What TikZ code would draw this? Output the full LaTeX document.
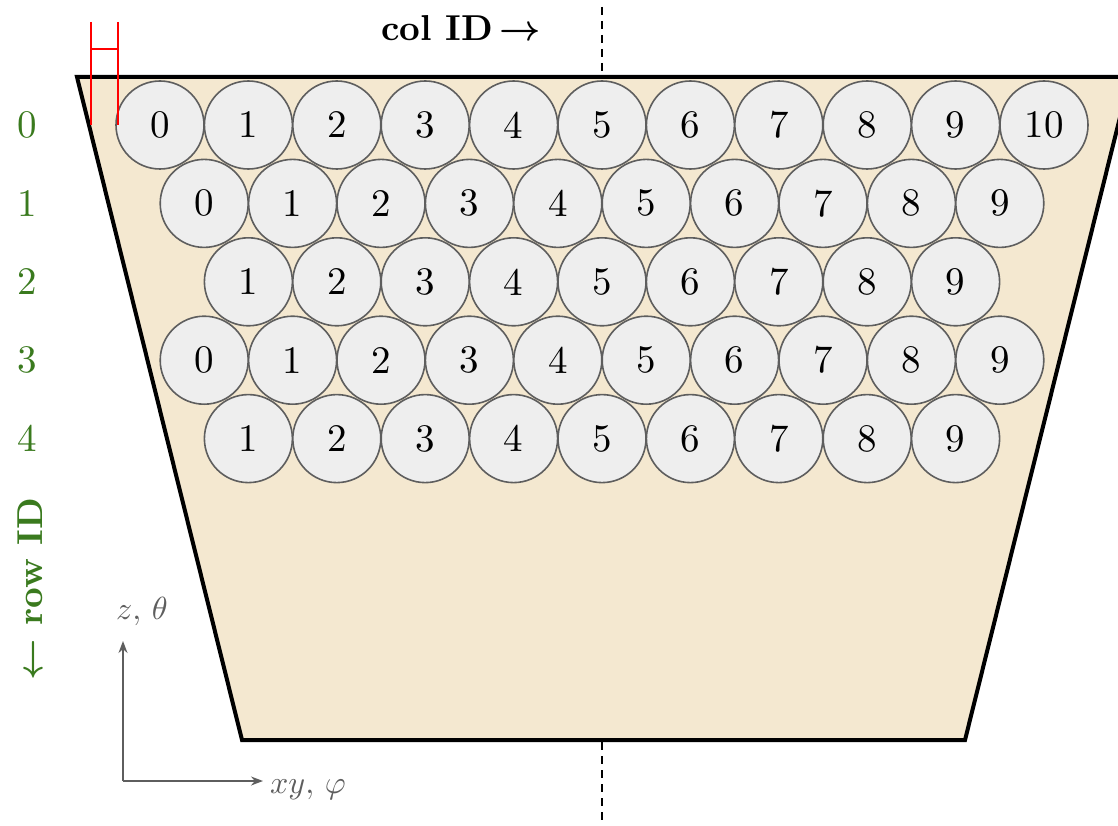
\documentclass[tikz,border=0pt]{standalone}
\usetikzlibrary{arrows.meta}
\definecolor{beige}{HTML}{F4E8D0}
\definecolor{cellfill}{HTML}{EEEEEE}
\definecolor{cellline}{HTML}{5E5E5E}
\definecolor{rowgreen}{HTML}{3A7A1E}
\definecolor{axisgray}{HTML}{5E5E5E}
\newcommand{\bigtxt}[1]{\scalebox{3.9}{#1}}
\newcommand{\midtxt}[1]{\scalebox{3.6}{#1}}
\newcommand{\axtxt}[1]{\scalebox{3.2}{#1}}
\tikzset{
  cell/.style={circle, draw=cellline, fill=cellfill, line width=1.6pt, minimum size=88pt, inner sep=0pt},
  rowlab/.style={text=rowgreen},
  axis/.style={draw=axisgray, line width=1.6pt, -{Stealth[length=12pt,width=9pt]}},
  axlab/.style={text=axisgray},
  marker/.style={draw=red, line width=1.8pt},
  centre/.style={draw=black, line width=1.6pt, dash pattern=on 8pt off 6pt}
}
\begin{document}
\begin{tikzpicture}[x=1pt,y=-1pt]
\useasboundingbox (0,0) rectangle (1118,826);
% trapezoid
\fill[beige] (77,77) -- (1130,77) -- (965,740) -- (242,740) -- cycle;
\draw[line width=4pt, line join=miter] (77,77) -- (1130,77) -- (965,740) -- (242,740) -- cycle;
% centre dashed line
\coordinate (dt0) at (602,7);
\coordinate (dt1) at (602,75);
\coordinate (db0) at (602,742);
\coordinate (db1) at (602,830);
\draw[centre] (dt0) -- (dt1);
\draw[centre] (db0) -- (db1);
% circles
\foreach \c in {0,...,10} { \node[cell] (c-0-\c) at ({160+88.4*\c},125) {\bigtxt{\c}}; }
\foreach \c in {0,...,9} { \node[cell] (c-1-\c) at ({204.2+88.4*\c},203.4) {\bigtxt{\c}}; }
\foreach \c in {1,...,9} { \node[cell] (c-2-\c) at ({160+88.4*\c},281.8) {\bigtxt{\c}}; }
\foreach \c in {0,...,9} { \node[cell] (c-3-\c) at ({204.2+88.4*\c},360.2) {\bigtxt{\c}}; }
\foreach \c in {1,...,9} { \node[cell] (c-4-\c) at ({160+88.4*\c},438.6) {\bigtxt{\c}}; }
% row labels
\foreach \r in {0,...,4} { \node[rowlab] (r-\r) at (27,{125+78.4*\r}) {\bigtxt{\r}}; }
\node[rowlab, rotate=90] (rowid) at (30,589) {\midtxt{\bfseries\boldmath$\leftarrow$ row ID}};
\node (colid) at (461,28) {\midtxt{\bfseries\boldmath col ID\,$\rightarrow$}};
% red marker
\coordinate (m1a) at (91,22);
\coordinate (m1b) at (91,125);
\coordinate (m2a) at (118,22);
\coordinate (m2b) at (118,125);
\coordinate (m3a) at (91,49);
\coordinate (m3b) at (119,49);
% axes
\coordinate (o) at (123,781);
\coordinate (zend) at (123,641);
\coordinate (xend) at (263,781);
\draw[axis] (o) -- (zend);
\draw[axis] (o) -- (xend);
\node[axlab] (zlab) at (142,611) {\axtxt{$z,\,\theta$}};
\node[axlab] (xlab) at (308,790) {\axtxt{$xy,\,\varphi$}};
\draw[marker] (m1a) -- (m1b);
\draw[marker] (m2a) -- (m2b);
\draw[marker] (m3a) -- (m3b);
\end{tikzpicture}
\end{document}
